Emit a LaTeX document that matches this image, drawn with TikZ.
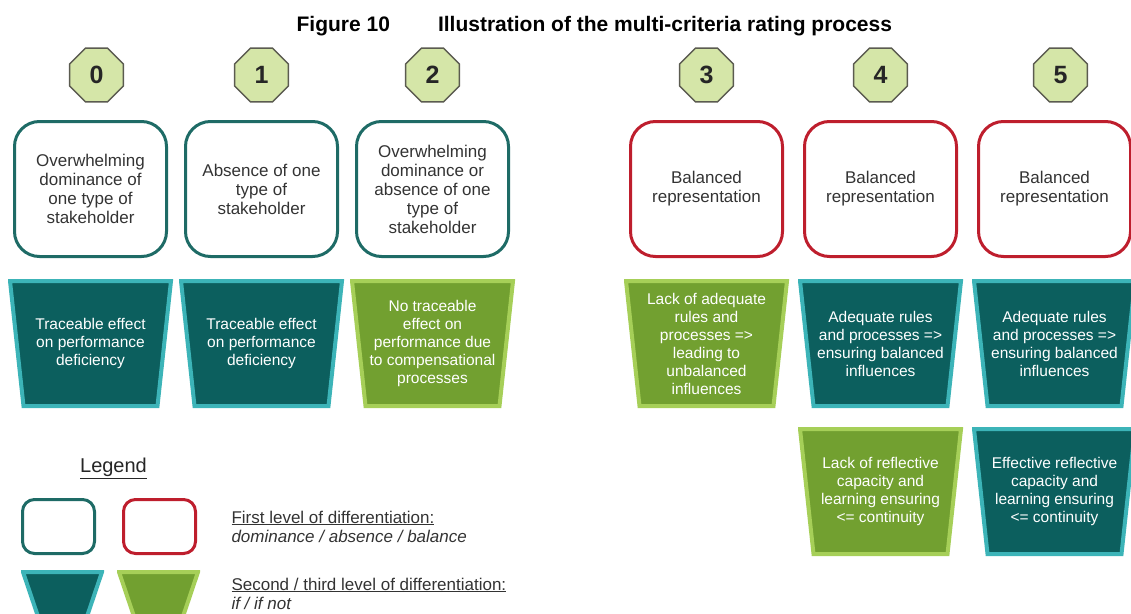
\documentclass[tikz,border=0pt]{standalone}
\usepackage{fontspec}
\setmainfont{Liberation Sans}
\usetikzlibrary{shapes.geometric,positioning}

\definecolor{tealline}{HTML}{1E6B66}
\definecolor{redline}{HTML}{BE1E2D}
\definecolor{tealfill}{HTML}{0C5F5E}
\definecolor{tealedge}{HTML}{3CB4B8}
\definecolor{greenfill}{HTML}{72A030}
\definecolor{greenedge}{HTML}{A6CF58}
\definecolor{octfill}{HTML}{D5E6A8}
\definecolor{octline}{HTML}{5B5B50}
\definecolor{txtgray}{HTML}{333333}

\begin{document}
\begin{tikzpicture}[x=1pt, y=-1pt, node distance=171,
  score/.style = {shape=regular polygon, regular polygon sides=8, draw=octline, fill=octfill, line width=1.5, minimum size=58, inner sep=0, text=black!85, font=\fontsize{25}{25}\selectfont\bfseries},
  lvl/.style = {shape=rectangle, rounded corners=25, line width=3, minimum width=152, minimum height=135, align=center, text=txtgray, font=\fontsize{17}{19}\selectfont},
  dom/.style = {lvl, draw=tealline},
  bal/.style = {lvl, draw=redline},
  trap/.style n args = {3}{shape=rectangle, fill=white, inner sep=0, align=center, text=white, font=\fontsize{15.5}{18}\selectfont,
    path picture={\draw[line width=4, draw=#1, fill=#2]
      ([xshift=2, yshift=-2]path picture bounding box.north west) --
      ([xshift=-2, yshift=-2]path picture bounding box.north east) --
      ([xshift=-2-#3, yshift=2]path picture bounding box.south east) --
      ([xshift=2+#3, yshift=2]path picture bounding box.south west) -- cycle;}},
  yes/.style = {trap={tealedge}{tealfill}{13.5}, minimum width=165, minimum height=129},
  no/.style = {trap={greenedge}{greenfill}{13.5}, minimum width=165, minimum height=129},
  legtext/.style = {anchor=west, align=left, text=txtgray, font=\fontsize{17}{19}\selectfont}]
\clip (0,0) rectangle (1131,613);

% title
\node[font=\fontsize{21}{25}\selectfont\bfseries] (fig) at (343.3,26) {Figure 10};
\node[font=\fontsize{21}{25}\selectfont\bfseries, anchor=west] (ttl) at (434.5,26) {Illustration of the multi-criteria rating process};

% first level
\node[dom] (b0) at (90.5,189) {Overwhelming\\dominance of\\one type of\\stakeholder};
\node[dom] (b1) [right of=b0] {Absence of one\\type of\\stakeholder};
\node[dom] (b2) [right of=b1] {Overwhelming\\dominance or\\absence of one\\type of\\stakeholder};
\node[bal] (b3) at (706.5,189) {Balanced\\representation};
\node[bal] (b4) [right of=b3, node distance=174] {Balanced\\representation};
\node[bal] (b5) [right of=b4, node distance=174] {Balanced\\representation};

% scores
\node[score] (s0) [above of=b0, node distance=114, xshift=6] {0};
\node[score] (s1) [above of=b1, node distance=114] {1};
\node[score] (s2) [above of=b2, node distance=114] {2};
\node[score] (s3) [above of=b3, node distance=114] {3};
\node[score] (s4) [above of=b4, node distance=114] {4};
\node[score] (s5) [above of=b5, node distance=114, xshift=6] {5};

% second / third level
\node[yes] (t0) [below of=b0, node distance=154.5] {Traceable effect\\on performance\\deficiency};
\node[yes] (t1) [below of=b1, node distance=154.5] {Traceable effect\\on performance\\deficiency};
\node[no] (t2) [below of=b2, node distance=154.5] {No traceable\\effect on\\performance due\\to compensational\\processes};
\node[no] (t3) [below of=b3, node distance=154.5] {Lack of adequate\\rules and\\processes =>\\leading to\\unbalanced\\influences};
\node[yes] (t4) [below of=b4, node distance=154.5] {Adequate rules\\and processes =>\\ensuring balanced\\influences};
\node[yes] (t5) [below of=b5, node distance=154.5] {Adequate rules\\and processes =>\\ensuring balanced\\influences};
\node[no] (t4b) [below of=t4, node distance=148] {Lack of reflective\\capacity and\\learning ensuring\\<= continuity};
\node[yes] (t5b) [below of=t5, node distance=148] {Effective reflective\\capacity and\\learning ensuring\\<= continuity};

% legend
\node[text=black!85, font=\fontsize{20}{24}\selectfont] (leg) at (113.5,468) {\underline{Legend}};
\node[lvl, draw=tealline, rounded corners=12, minimum width=72, minimum height=54] (lb0) at (58.5,526.5) {};
\node[lvl, draw=redline, rounded corners=12, minimum width=72, minimum height=54] (lb1) at (159.5,526.5) {};
\node[trap={tealedge}{tealfill}{29}, minimum width=83, minimum height=90] (lt0) at (62.5,615) {};
\node[trap={greenedge}{greenfill}{29}, minimum width=83, minimum height=90] (lt1) at (158.5,615) {};
\node[legtext] (lx0) at (228,526.5) {\underline{First level of differentiation:}\\\textit{dominance / absence / balance}};
\node[legtext] (lx1) at (228,593.5) {\underline{Second / third level of differentiation:}\\\textit{if / if not}};
\end{tikzpicture}
\end{document}
